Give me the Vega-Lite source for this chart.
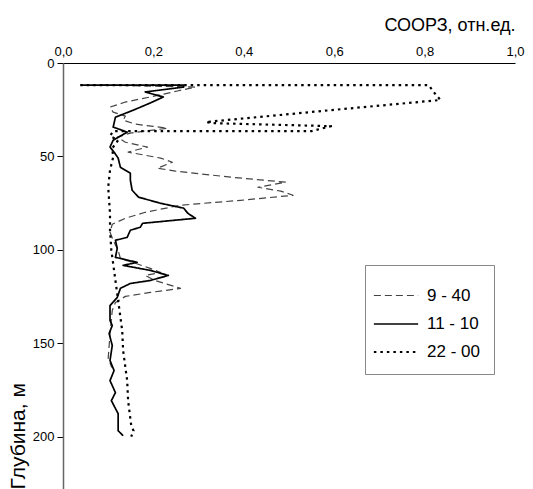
{
  "$schema": "https://vega.github.io/schema/vega-lite/v6.json",
  "width": 452,
  "height": 426,
  "autosize": {"type": "none"},
  "padding": {"left": 63, "top": 63, "right": 18, "bottom": 0},
  "background": "white",
  "config": {
    "view": {"stroke": null},
    "font": "Liberation Sans"
  },
  "data": {
    "values": [
      {"s": "9 - 40", "i": 1, "v": 0.082, "d": 11.8},
      {"s": "9 - 40", "i": 2, "v": 0.293, "d": 12.9},
      {"s": "9 - 40", "i": 3, "v": 0.253, "d": 15.0},
      {"s": "9 - 40", "i": 4, "v": 0.193, "d": 18.2},
      {"s": "9 - 40", "i": 5, "v": 0.138, "d": 20.9},
      {"s": "9 - 40", "i": 6, "v": 0.104, "d": 23.6},
      {"s": "9 - 40", "i": 7, "v": 0.111, "d": 26.3},
      {"s": "9 - 40", "i": 8, "v": 0.138, "d": 28.4},
      {"s": "9 - 40", "i": 9, "v": 0.133, "d": 30.6},
      {"s": "9 - 40", "i": 10, "v": 0.16, "d": 32.7},
      {"s": "9 - 40", "i": 11, "v": 0.231, "d": 34.9},
      {"s": "9 - 40", "i": 12, "v": 0.149, "d": 37.5},
      {"s": "9 - 40", "i": 13, "v": 0.12, "d": 39.7},
      {"s": "9 - 40", "i": 14, "v": 0.138, "d": 42.4},
      {"s": "9 - 40", "i": 15, "v": 0.187, "d": 45.0},
      {"s": "9 - 40", "i": 16, "v": 0.144, "d": 47.7},
      {"s": "9 - 40", "i": 17, "v": 0.216, "d": 50.9},
      {"s": "9 - 40", "i": 18, "v": 0.242, "d": 53.1},
      {"s": "9 - 40", "i": 19, "v": 0.209, "d": 56.3},
      {"s": "9 - 40", "i": 20, "v": 0.249, "d": 57.9},
      {"s": "9 - 40", "i": 21, "v": 0.371, "d": 61.1},
      {"s": "9 - 40", "i": 22, "v": 0.493, "d": 63.8},
      {"s": "9 - 40", "i": 23, "v": 0.431, "d": 66.5},
      {"s": "9 - 40", "i": 24, "v": 0.482, "d": 68.6},
      {"s": "9 - 40", "i": 25, "v": 0.509, "d": 70.8},
      {"s": "9 - 40", "i": 26, "v": 0.393, "d": 73.5},
      {"s": "9 - 40", "i": 27, "v": 0.26, "d": 76.1},
      {"s": "9 - 40", "i": 28, "v": 0.182, "d": 79.9},
      {"s": "9 - 40", "i": 29, "v": 0.138, "d": 83.1},
      {"s": "9 - 40", "i": 30, "v": 0.109, "d": 86.3},
      {"s": "9 - 40", "i": 31, "v": 0.104, "d": 90.6},
      {"s": "9 - 40", "i": 32, "v": 0.111, "d": 94.9},
      {"s": "9 - 40", "i": 33, "v": 0.122, "d": 100.3},
      {"s": "9 - 40", "i": 34, "v": 0.127, "d": 104.6},
      {"s": "9 - 40", "i": 35, "v": 0.16, "d": 107.2},
      {"s": "9 - 40", "i": 36, "v": 0.193, "d": 109.9},
      {"s": "9 - 40", "i": 37, "v": 0.216, "d": 112.1},
      {"s": "9 - 40", "i": 38, "v": 0.182, "d": 113.7},
      {"s": "9 - 40", "i": 39, "v": 0.204, "d": 116.4},
      {"s": "9 - 40", "i": 40, "v": 0.26, "d": 120.6},
      {"s": "9 - 40", "i": 41, "v": 0.193, "d": 122.8},
      {"s": "9 - 40", "i": 42, "v": 0.138, "d": 124.9},
      {"s": "9 - 40", "i": 43, "v": 0.116, "d": 128.2},
      {"s": "9 - 40", "i": 44, "v": 0.109, "d": 132.4},
      {"s": "9 - 40", "i": 45, "v": 0.104, "d": 145.0},
      {"s": "9 - 40", "i": 46, "v": 0.1, "d": 158.0},
      {"s": "9 - 40", "i": 47, "v": 0.108, "d": 163.0},

      {"s": "11 - 10", "i": 1, "v": 0.042, "d": 11.8},
      {"s": "11 - 10", "i": 2, "v": 0.267, "d": 11.8},
      {"s": "11 - 10", "i": 3, "v": 0.267, "d": 12.9},
      {"s": "11 - 10", "i": 4, "v": 0.182, "d": 15.5},
      {"s": "11 - 10", "i": 5, "v": 0.222, "d": 18.2},
      {"s": "11 - 10", "i": 6, "v": 0.193, "d": 21.4},
      {"s": "11 - 10", "i": 7, "v": 0.156, "d": 25.2},
      {"s": "11 - 10", "i": 8, "v": 0.116, "d": 29.0},
      {"s": "11 - 10", "i": 9, "v": 0.111, "d": 34.3},
      {"s": "11 - 10", "i": 10, "v": 0.142, "d": 37.0},
      {"s": "11 - 10", "i": 11, "v": 0.111, "d": 41.3},
      {"s": "11 - 10", "i": 12, "v": 0.104, "d": 45.0},
      {"s": "11 - 10", "i": 13, "v": 0.113, "d": 47.7},
      {"s": "11 - 10", "i": 14, "v": 0.122, "d": 50.9},
      {"s": "11 - 10", "i": 15, "v": 0.127, "d": 55.8},
      {"s": "11 - 10", "i": 16, "v": 0.149, "d": 59.0},
      {"s": "11 - 10", "i": 17, "v": 0.149, "d": 62.7},
      {"s": "11 - 10", "i": 18, "v": 0.153, "d": 68.1},
      {"s": "11 - 10", "i": 19, "v": 0.167, "d": 71.8},
      {"s": "11 - 10", "i": 20, "v": 0.216, "d": 75.1},
      {"s": "11 - 10", "i": 21, "v": 0.267, "d": 77.7},
      {"s": "11 - 10", "i": 22, "v": 0.276, "d": 80.4},
      {"s": "11 - 10", "i": 23, "v": 0.293, "d": 83.1},
      {"s": "11 - 10", "i": 24, "v": 0.176, "d": 85.8},
      {"s": "11 - 10", "i": 25, "v": 0.171, "d": 87.9},
      {"s": "11 - 10", "i": 26, "v": 0.149, "d": 89.5},
      {"s": "11 - 10", "i": 27, "v": 0.142, "d": 93.3},
      {"s": "11 - 10", "i": 28, "v": 0.116, "d": 94.9},
      {"s": "11 - 10", "i": 29, "v": 0.12, "d": 99.2},
      {"s": "11 - 10", "i": 30, "v": 0.116, "d": 104.0},
      {"s": "11 - 10", "i": 31, "v": 0.164, "d": 106.7},
      {"s": "11 - 10", "i": 32, "v": 0.133, "d": 108.3},
      {"s": "11 - 10", "i": 33, "v": 0.193, "d": 111.0},
      {"s": "11 - 10", "i": 34, "v": 0.233, "d": 113.7},
      {"s": "11 - 10", "i": 35, "v": 0.193, "d": 116.4},
      {"s": "11 - 10", "i": 36, "v": 0.149, "d": 118.0},
      {"s": "11 - 10", "i": 37, "v": 0.127, "d": 120.6},
      {"s": "11 - 10", "i": 38, "v": 0.12, "d": 125.5},
      {"s": "11 - 10", "i": 39, "v": 0.104, "d": 129.8},
      {"s": "11 - 10", "i": 40, "v": 0.104, "d": 137.8},
      {"s": "11 - 10", "i": 41, "v": 0.109, "d": 140.5},
      {"s": "11 - 10", "i": 42, "v": 0.102, "d": 144.8},
      {"s": "11 - 10", "i": 43, "v": 0.109, "d": 151.2},
      {"s": "11 - 10", "i": 44, "v": 0.104, "d": 159.2},
      {"s": "11 - 10", "i": 45, "v": 0.113, "d": 164.6},
      {"s": "11 - 10", "i": 46, "v": 0.104, "d": 170.0},
      {"s": "11 - 10", "i": 47, "v": 0.116, "d": 176.4},
      {"s": "11 - 10", "i": 48, "v": 0.107, "d": 180.7},
      {"s": "11 - 10", "i": 49, "v": 0.122, "d": 187.7},
      {"s": "11 - 10", "i": 50, "v": 0.122, "d": 196.8},
      {"s": "11 - 10", "i": 51, "v": 0.133, "d": 199.5},

      {"s": "22 - 00", "i": 1, "v": 0.038, "d": 11.8},
      {"s": "22 - 00", "i": 2, "v": 0.809, "d": 11.8},
      {"s": "22 - 00", "i": 3, "v": 0.82, "d": 15.5},
      {"s": "22 - 00", "i": 4, "v": 0.835, "d": 19.8},
      {"s": "22 - 00", "i": 5, "v": 0.616, "d": 24.7},
      {"s": "22 - 00", "i": 6, "v": 0.316, "d": 31.6},
      {"s": "22 - 00", "i": 7, "v": 0.331, "d": 32.2},
      {"s": "22 - 00", "i": 8, "v": 0.593, "d": 33.8},
      {"s": "22 - 00", "i": 9, "v": 0.549, "d": 36.5},
      {"s": "22 - 00", "i": 10, "v": 0.282, "d": 36.5},
      {"s": "22 - 00", "i": 11, "v": 0.111, "d": 36.5},
      {"s": "22 - 00", "i": 12, "v": 0.104, "d": 39.1},
      {"s": "22 - 00", "i": 13, "v": 0.122, "d": 41.3},
      {"s": "22 - 00", "i": 14, "v": 0.109, "d": 45.6},
      {"s": "22 - 00", "i": 15, "v": 0.111, "d": 50.4},
      {"s": "22 - 00", "i": 16, "v": 0.104, "d": 57.4},
      {"s": "22 - 00", "i": 17, "v": 0.1, "d": 66.5},
      {"s": "22 - 00", "i": 18, "v": 0.104, "d": 80.4},
      {"s": "22 - 00", "i": 19, "v": 0.104, "d": 89.5},
      {"s": "22 - 00", "i": 20, "v": 0.107, "d": 100.3},
      {"s": "22 - 00", "i": 21, "v": 0.116, "d": 116.4},
      {"s": "22 - 00", "i": 22, "v": 0.122, "d": 127.1},
      {"s": "22 - 00", "i": 23, "v": 0.131, "d": 143.2},
      {"s": "22 - 00", "i": 24, "v": 0.133, "d": 153.9},
      {"s": "22 - 00", "i": 25, "v": 0.142, "d": 170.0},
      {"s": "22 - 00", "i": 26, "v": 0.144, "d": 180.7},
      {"s": "22 - 00", "i": 27, "v": 0.151, "d": 194.1},
      {"s": "22 - 00", "i": 28, "v": 0.156, "d": 196.8},
      {"s": "22 - 00", "i": 29, "v": 0.151, "d": 200.0}
    ]
  },
  "mark": {"type": "line", "strokeCap": "butt", "strokeJoin": "round"},
  "encoding": {
    "x": {
      "field": "v",
      "type": "quantitative",
      "scale": {"domain": [0, 1], "nice": false, "zero": false},
      "axis": {
        "orient": "top",
        "values": [0, 0.2, 0.4, 0.6, 0.8, 1.0],
        "labelExpr": "replace(format(datum.value, '.1f'), '.', ',')",
        "grid": false,
        "ticks": false,
        "domainColor": "#000",
        "domainWidth": 1,
        "labelFontSize": 13,
        "labelColor": "#000",
        "labelPadding": 5,
        "labelFlush": false,
        "title": "СООРЗ, отн.ед.",
        "titleFontSize": 18,
        "titleFontWeight": "normal",
        "titleColor": "#000",
        "titleAnchor": "end",
        "titlePadding": 11
      }
    },
    "y": {
      "field": "d",
      "type": "quantitative",
      "scale": {"domain": [0, 228], "nice": false, "reverse": true},
      "axis": {
        "values": [0, 50, 100, 150, 200],
        "grid": false,
        "tickSize": 6,
        "tickColor": "#000",
        "domainColor": "#666",
        "domainWidth": 1.5,
        "labelFontSize": 13,
        "labelColor": "#000",
        "labelPadding": 3,
        "labelFlush": false,
        "title": "Глубина, м",
        "titleFontSize": 21,
        "titleFontWeight": "normal",
        "titleColor": "#000",
        "titleAnchor": "end",
        "titleAlign": "left",
        "titlePadding": 4
      }
    },
    "order": {"field": "i", "type": "quantitative"},
    "color": {
      "field": "s",
      "type": "nominal",
      "scale": {"domain": ["9 - 40", "11 - 10", "22 - 00"], "range": ["#444444", "#000000", "#000000"]},
      "legend": {
        "orient": "none",
        "legendX": 302,
        "legendY": 202,
        "title": null,
        "strokeColor": "#888",
        "padding": 14,
        "labelFontSize": 17,
        "labelColor": "#000",
        "symbolType": "M-1.4,0H1.4",
        "symbolSize": 1000,
        "rowPadding": 3,
        "labelOffset": 14
      }
    },
    "strokeDash": {
      "field": "s",
      "type": "nominal",
      "scale": {"domain": ["9 - 40", "11 - 10", "22 - 00"], "range": [[7, 4], [1, 0], [2.5, 4]]},
      "legend": null
    },
    "strokeWidth": {
      "field": "s",
      "type": "nominal",
      "scale": {"domain": ["9 - 40", "11 - 10", "22 - 00"], "range": [1.2, 2.2, 3]},
      "legend": null
    }
  }
}
